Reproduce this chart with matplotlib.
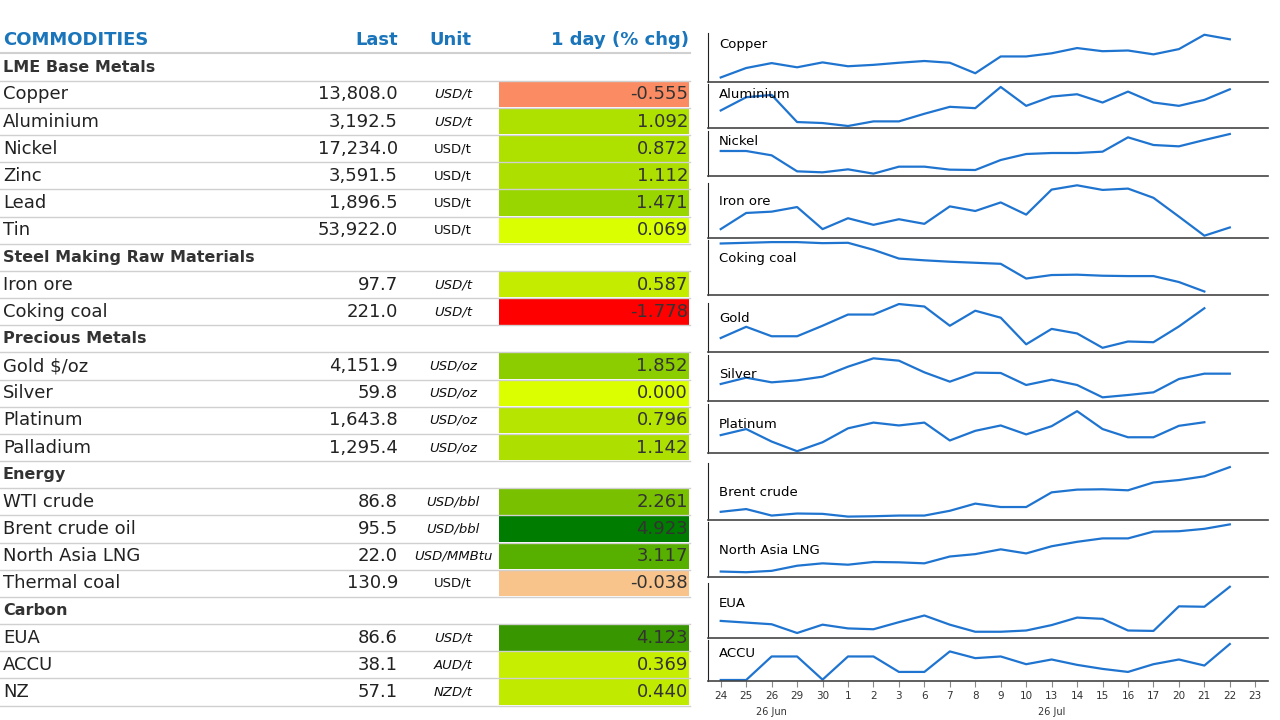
import matplotlib.pyplot as plt
import numpy as np

# ---- table data ----
rows = ["COMMODITIES", "LME Base Metals", "Copper", "Aluminium", "Nickel", "Zinc", "Lead", "Tin",
        "Steel Making Raw Materials", "Iron ore", "Coking coal", "Precious Metals",
        "Gold $/oz", "Silver", "Platinum", "Palladium", "Energy", "WTI crude", "Brent crude oil",
        "North Asia LNG", "Thermal coal", "Carbon", "EUA", "ACCU", "NZ"]
sections = ["LME Base Metals", "Steel Making Raw Materials", "Precious Metals", "Energy", "Carbon"]
last = {"Copper": "13,808.0", "Aluminium": "3,192.5", "Nickel": "17,234.0", "Zinc": "3,591.5",
        "Lead": "1,896.5", "Tin": "53,922.0", "Iron ore": "97.7", "Coking coal": "221.0",
        "Gold $/oz": "4,151.9", "Silver": "59.8", "Platinum": "1,643.8", "Palladium": "1,295.4",
        "WTI crude": "86.8", "Brent crude oil": "95.5", "North Asia LNG": "22.0",
        "Thermal coal": "130.9", "EUA": "86.6", "ACCU": "38.1", "NZ": "57.1"}
unit = {"Copper": "USD/t", "Aluminium": "USD/t", "Nickel": "USD/t", "Zinc": "USD/t", "Lead": "USD/t",
        "Tin": "USD/t", "Iron ore": "USD/t", "Coking coal": "USD/t", "Gold $/oz": "USD/oz",
        "Silver": "USD/oz", "Platinum": "USD/oz", "Palladium": "USD/oz", "WTI crude": "USD/bbl",
        "Brent crude oil": "USD/bbl", "North Asia LNG": "USD/MMBtu", "Thermal coal": "USD/t",
        "EUA": "USD/t", "ACCU": "AUD/t", "NZ": "NZD/t"}
upright_units = ["Nickel", "Zinc", "Lead", "Tin", "Thermal coal"]
chg = {"Copper": -0.555, "Aluminium": 1.092, "Nickel": 0.872, "Zinc": 1.112, "Lead": 1.471,
       "Tin": 0.069, "Iron ore": 0.587, "Coking coal": -1.778, "Gold $/oz": 1.852, "Silver": 0.000,
       "Platinum": 0.796, "Palladium": 1.142, "WTI crude": 2.261, "Brent crude oil": 4.923,
       "North Asia LNG": 3.117, "Thermal coal": -0.038, "EUA": 4.123, "ACCU": 0.369, "NZ": 0.440}
cell_col = {"Copper": "#fb8b62", "Aluminium": "#aee000", "Nickel": "#afe100", "Zinc": "#ade000",
            "Lead": "#99d600", "Tin": "#d9ff00", "Iron ore": "#c3ec00", "Coking coal": "#ff0000",
            "Gold $/oz": "#8ccd00", "Silver": "#dcff00", "Platinum": "#b5e500", "Palladium": "#ade000",
            "WTI crude": "#78c000", "Brent crude oil": "#007c00", "North Asia LNG": "#57b000",
            "Thermal coal": "#f9c48c", "EUA": "#389600", "ACCU": "#c6ee00", "NZ": "#c0ea00"}

# ---- sparkline data (relative levels) ----
dates = ["24", "25", "26", "29", "30", "1", "2", "3", "6", "7", "8", "9", "10", "13", "14", "15",
         "16", "17", "20", "21", "22", "23"]
spark_names = ["Copper", "Aluminium", "Nickel", "Iron ore", "Coking coal", "Gold", "Silver",
               "Platinum", "Brent crude", "North Asia LNG", "EUA", "ACCU"]
copper = [13, 40, 54, 42, 56, 45, 49, 55, 60, 55, 25, 73, 73, 82, 97, 88, 90, 79, 94, 135, 122]
aluminium = [53, 93, 100, 18, 15, 6, 20, 20, 43, 64, 60, 124, 67, 95, 102, 77, 110, 77, 67, 85, 117]
nickel = [75, 75, 62, 14, 11, 20, 7, 28, 28, 19, 18, 48, 66, 69, 69, 73, 116, 93, 89, 108, 126]
iron_ore = [27, 76, 80, 94, 27, 60, 40, 57, 43, 96, 82, 108, 71, 147, 160, 146, 150, 122, 65, 7, 32]
coking_coal = [147, 149, 151, 151, 148, 149, 129, 104, 99, 95, 92, 89, 47, 57, 58, 55, 54, 54, 37, 10]
gold = [40, 72, 45, 45, 75, 107, 107, 137, 130, 75, 118, 98, 22, 66, 53, 12, 30, 28, 73, 125]
silver = [51, 70, 56, 62, 73, 103, 128, 121, 86, 58, 85, 84, 48, 64, 48, 11, 18, 26, 66, 82, 82]
platinum = [50, 67, 32, 5, 30, 69, 85, 77, 85, 35, 62, 77, 52, 75, 117, 67, 44, 44, 76, 86]
brent = [24, 32, 13, 19, 18, 10, 11, 13, 13, 27, 48, 38, 38, 81, 89, 90, 87, 110, 117, 128, 155]
lng = [16, 14, 18, 33, 40, 36, 44, 43, 40, 60, 67, 81, 69, 90, 103, 113, 113, 133, 134, 141, 154]
eua = [41, 37, 33, 12, 32, 23, 21, 38, 54, 32, 15, 15, 18, 31, 49, 46, 18, 17, 76, 75, 123]
accu = [3, 3, 73, 73, 4, 73, 73, 27, 27, 88, 68, 73, 50, 64, 48, 36, 27, 50, 64, 46, 110]
spark_data = [copper, aluminium, nickel, iron_ore, coking_coal, gold, silver, platinum, brent, lng, eua, accu]
spark_ymax = [140, 133, 135, 167, 157, 140, 138, 137, 167, 161, 132, 122]

W, H = 1280, 720
fig = plt.figure(figsize=(12.8, 7.2), dpi=100)
fig.patch.set_facecolor("white")
plt.rcParams["font.family"] = ["Verdana", "DejaVu Sans"]

# table in pixel coordinates
ax = fig.add_axes([0, 0, 1, 1])
ax.set_xlim(0, W)
ax.set_ylim(H, 0)
ax.axis("off")

blue = "#1a75bb"
row0, step = 40, 27.17
ys = [row0 + i * step for i in range(len(rows))]
for name, y in zip(rows, ys):
    if name == "COMMODITIES":
        ax.text(3, y, name, fontsize=13, fontweight="bold", color=blue, va="center")
        ax.text(398, y, "Last", fontsize=13, fontweight="bold", color=blue, va="center", ha="right")
        ax.text(450, y, "Unit", fontsize=13, fontweight="bold", color=blue, va="center", ha="center")
        ax.text(689, y, "1 day (% chg)", fontsize=13, fontweight="bold", color=blue, va="center", ha="right")
        ax.plot([0, 690], [y + 12.5, y + 12.5], color="#d0d0d0", lw=1.5)
        continue
    if name in sections:
        ax.text(3, y, name, fontsize=11.5, fontweight="bold", color="#333333", va="center")
    else:
        ax.barh(y, 190, left=499, height=step - 1.5, color=cell_col[name])
        ax.text(3, y, name, fontsize=13, color="#222222", va="center")
        ax.text(398, y, last[name], fontsize=13, color="#222222", va="center", ha="right")
        style = "normal" if name in upright_units else "italic"
        ax.text(453, y, unit[name], fontsize=9.5, style=style, color="#111111", va="center", ha="center")
        ax.text(688, y, f"{chg[name]:.3f}", fontsize=13, color="#333333", va="center", ha="right")
    ax.plot([0, 690], [y + step / 2, y + step / 2], color="#d0d0d0", lw=1)

# sparklines
panels = [(33, 82), (84, 128), (131, 176), (183, 238), (240, 295), (303, 352), (355, 401),
          (404, 453), (463, 520), (522, 577), (583, 638), (640, 681)]
label_y = [0.77, 0.76, 0.76, 0.67, 0.66, 0.69, 0.58, 0.58, 0.49, 0.48, 0.63, 0.66]
left, right = 708, 1268
for i, (name, vals) in enumerate(zip(spark_names, spark_data)):
    top, bot = panels[i]
    sa = fig.add_axes([left / W, 1 - bot / H, (right - left) / W, (bot - top) / H])
    sa.plot(range(len(vals)), vals, color="#1f74d0", lw=1.6)
    sa.set_xlim(-0.5, len(dates) - 0.5)
    sa.set_ylim(0, spark_ymax[i])
    sa.set_facecolor("none")
    for s in ["top", "right"]:
        sa.spines[s].set_visible(False)
    sa.spines["left"].set_color("#222222")
    sa.spines["bottom"].set_color("#444444")
    sa.spines["bottom"].set_linewidth(1.2)
    sa.set_yticks([])
    sa.text(0.02, label_y[i], name, transform=sa.transAxes, fontsize=9.5, va="center")
    if i == len(spark_names) - 1:
        sa.set_xticks(range(len(dates)))
        sa.set_xticklabels(dates, fontsize=7.5, color="#333333")
        sa.tick_params(axis="x", length=4, color="#888888")
        sa.text(2, -0.82, "26 Jun", transform=sa.get_xaxis_transform(), fontsize=7, ha="center", color="#333333")
        sa.text(13, -0.82, "26 Jul", transform=sa.get_xaxis_transform(), fontsize=7, ha="center", color="#333333")
    else:
        sa.set_xticks([])

fig.savefig("out.png", dpi=100)
